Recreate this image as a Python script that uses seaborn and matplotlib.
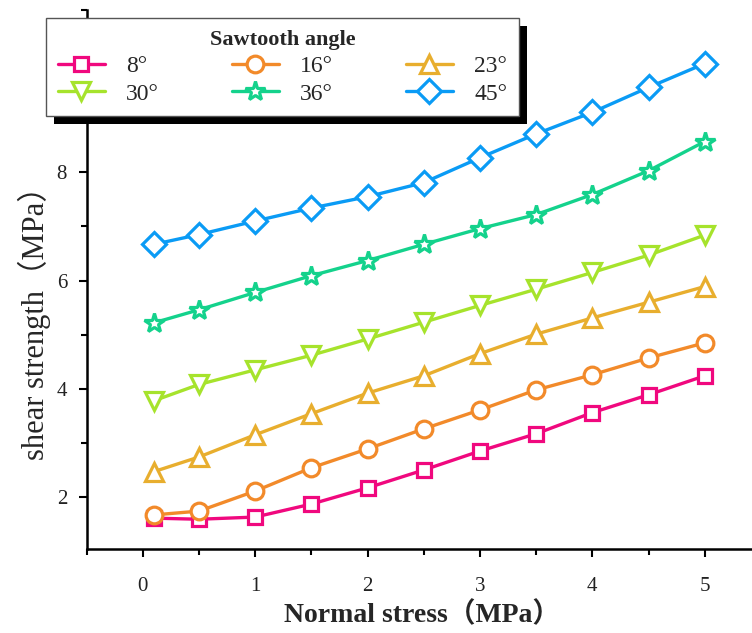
import matplotlib
matplotlib.use("Agg")
import matplotlib.pyplot as plt
import matplotlib.patheffects as pe
import seaborn as sns
import pandas as pd

# ---- data ----
normal_stress = [0.1, 0.5, 1, 1.5, 2, 2.5, 3, 3.5, 4, 4.5, 5]
angles = ["8°", "16°", "23°", "30°", "36°", "45°"]
s8 = [1.61, 1.59, 1.63, 1.87, 2.17, 2.50, 2.85, 3.17, 3.56, 3.89, 4.24]
s16 = [1.67, 1.74, 2.11, 2.54, 2.89, 3.26, 3.61, 3.98, 4.26, 4.57, 4.85]
s23 = [2.47, 2.74, 3.15, 3.54, 3.92, 4.24, 4.65, 5.01, 5.31, 5.60, 5.89]
s30 = [3.78, 4.08, 4.35, 4.62, 4.92, 5.23, 5.54, 5.84, 6.15, 6.47, 6.84]
s36 = [5.22, 5.46, 5.78, 6.09, 6.37, 6.67, 6.96, 7.22, 7.59, 8.03, 8.57]
s45 = [6.67, 6.85, 7.10, 7.34, 7.55, 7.81, 8.27, 8.71, 9.11, 9.57, 10.01]
series = [s8, s16, s23, s30, s36, s45]

colors = ["#F0087E", "#F28A2A", "#E8AE2E", "#A6E32C", "#14D28C", "#0A9BF5"]
markers = ["s", "o", "^", "v", "*", "D"]
msizes = [10, 12, 13, 13, 15, 12]

rows = []
for a, vals in zip(angles, series):
    for x, y in zip(normal_stress, vals):
        rows.append({"Normal stress": x, "shear": y, "angle": a})
df = pd.DataFrame(rows)

sns.set_theme(style="ticks")
plt.rcParams["font.family"] = ["Liberation Serif", "Noto Sans CJK SC"]

W, H = 752, 633
fig = plt.figure(figsize=(W / 100, H / 100), dpi=100)
ax = fig.add_axes([86.5 / W, 1 - 549 / H, (W - 86.5) / W, (549 - 10) / H])

handles = {}
for a, c, m, ms in zip(angles, colors, markers, msizes):
    sub = df[df["angle"] == a]
    sns.lineplot(data=sub, x="Normal stress", y="shear", ax=ax, color=c,
                 marker=m, markersize=ms, markerfacecolor="white",
                 markeredgecolor=c, markeredgewidth=2.3, linewidth=2.4,
                 label=a, legend=False)
    handles[a] = ax.lines[-1]

ax.set_xlim(-0.5, 5.42)
ax.set_ylim(1.04, 11.0)
ax.set_xticks([0, 1, 2, 3, 4, 5])
ax.set_xticks([-0.5, 0.5, 1.5, 2.5, 3.5, 4.5], minor=True)
ax.set_yticks([2, 4, 6, 8, 10])
ax.set_yticks([3, 5, 7, 9, 11], minor=True)
ax.tick_params(axis="both", which="major", length=6, width=1.5, labelsize=15,
               color="black", labelcolor="#222222", pad=14)
ax.tick_params(axis="both", which="minor", length=4, width=1.5, color="black")
ax.tick_params(axis="y", which="major", pad=8)
for s in ["top", "right"]:
    ax.spines[s].set_visible(False)
for s in ["left", "bottom"]:
    ax.spines[s].set_linewidth(1.8)
    ax.spines[s].set_color("black")

ax.set_xlabel("Normal stress（MPa）", fontsize=20, fontweight="bold")
ax.xaxis.set_label_coords((422 - 86.5) / (W - 86.5), -(615 - 549) / 539)
ax.xaxis.label.set_va("center")
ax.set_ylabel("shear strength（MPa）", fontsize=22)
ax.yaxis.set_label_coords(-(86.5 - 34) / (W - 86.5), (549 - 316) / 539)
ax.yaxis.label.set_va("center")

order = ["8°", "30°", "16°", "36°", "23°", "45°"]
leg = fig.legend([handles[a] for a in order], order, ncol=3,
                 loc="upper left",
                 bbox_to_anchor=(46 / W, 1 - 18 / H, 473 / W, 0.0),
                 bbox_transform=fig.transFigure, mode="expand",
                 title="Sawtooth angle", fontsize=17, handlelength=2.0,
                 frameon=True, fancybox=False, borderaxespad=0.0,
                 labelspacing=0.25, columnspacing=1.0, handletextpad=0.9,
                 borderpad=0.5)
leg.get_title().set_fontweight("bold")
leg.get_title().set_fontsize(16)
frame = leg.get_frame()
frame.set_edgecolor("#555555")
frame.set_linewidth(1.0)
frame.set_facecolor("white")
frame.set_alpha(1.0)
frame.set_path_effects([pe.SimplePatchShadow(offset=(5.5, -5.5), shadow_rgbFace="black", alpha=1.0),
                        pe.Normal()])

fig.savefig("out.png", dpi=100)
